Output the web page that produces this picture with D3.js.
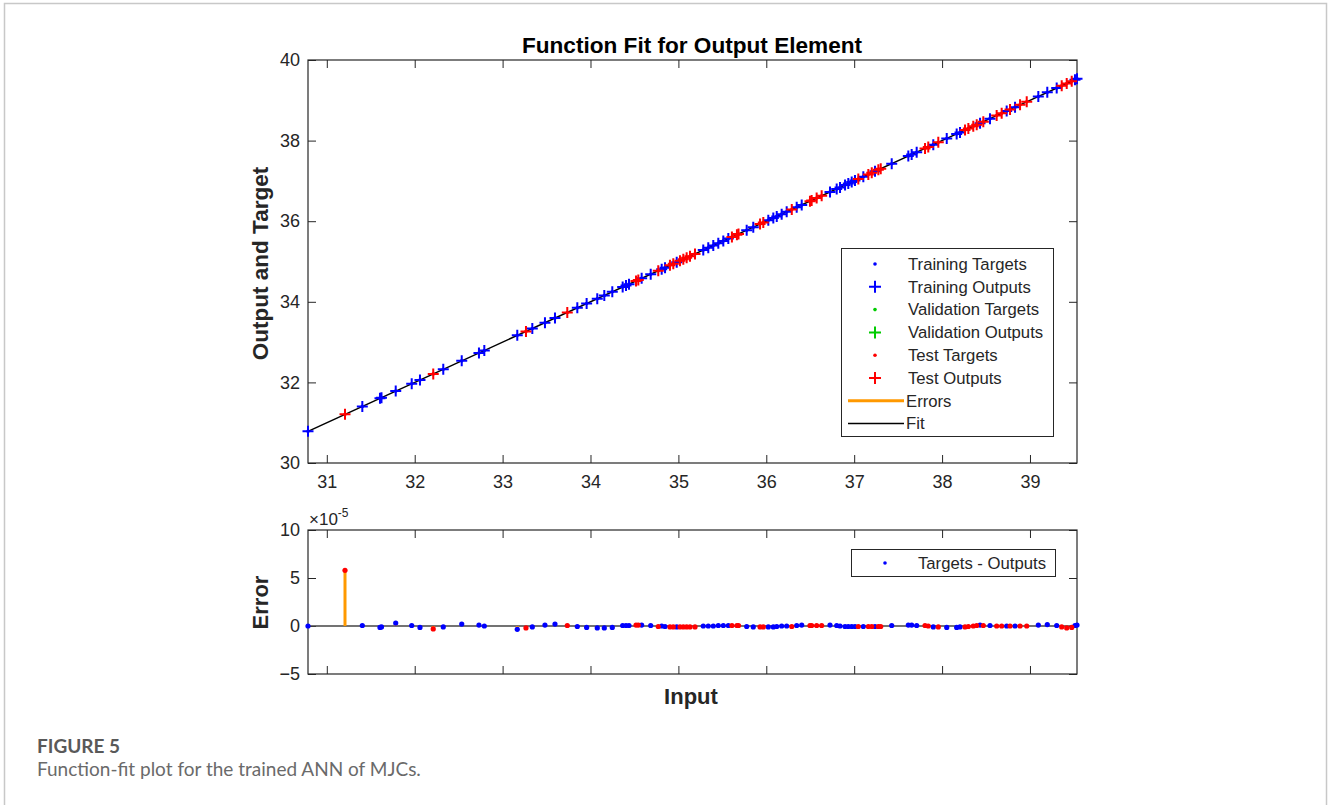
<!DOCTYPE html>
<html lang="en">
<head>
    <meta charset="UTF-8">
    <title>Function Fit</title>
    <style>
        html,body{
            margin:0;
            background:#fff;
            overflow:hidden;
        }
        text{ font-family: "Liberation Sans", Arial, sans-serif; fill:#262626; }
    </style>
</head>
<body>
    <svg id="svg"></svg>
    <script src="https://d3js.org/d3.v7.min.js"></script>
    <script>
        // training samples: input and error (Targets - Outputs, x1e-5)
        const trainX = [30.786, 31.404, 31.605, 31.622, 31.784, 31.966, 32.060, 32.325, 32.535, 32.731,
            32.792, 33.167, 33.338, 33.482, 33.596, 33.850, 33.956, 34.077, 34.157, 34.248,
            34.366, 34.404, 34.438, 34.582, 34.685, 34.810, 34.848, 34.981, 35.283, 35.340,
            35.397, 35.454, 35.511, 35.568, 35.777, 35.852, 36.023, 36.080, 36.119, 36.175,
            36.232, 36.346, 36.403, 36.725, 36.801, 36.839, 36.896, 36.933, 36.972, 37.009,
            37.104, 37.237, 37.427, 37.616, 37.654, 37.711, 37.900, 38.053, 38.166, 38.204,
            38.432, 38.545, 38.735, 38.830, 39.095, 39.197, 39.304, 39.512, 39.535];
        const trainErr = [0, 0.05, -0.15, -0.1, 0.3, 0.05, -0.15, -0.1, 0.2, 0.1,
            0, -0.35, -0.1, 0.1, 0.2, -0.05, -0.15, -0.2, -0.2, -0.15,
            0.05, 0.05, 0.05, 0.1, 0.05, 0, -0.05, -0.1, 0, 0,
            0, 0.05, 0.05, 0.05, -0.05, -0.1, -0.1, -0.1, -0.05, 0,
            0, 0.05, 0.1, 0.1, 0.05, 0, -0.05, -0.05, -0.05, -0.05,
            -0.05, -0.05, 0.05, 0.1, 0.1, 0.05, -0.1, -0.15, -0.15, -0.1,
            0.1, 0.05, 0, 0, 0.1, 0.15, 0.05, 0.05, 0.1];
        // test samples
        const testX = [31.207, 32.211, 33.266, 33.736, 34.518, 34.544, 34.771, 34.904, 34.942, 35.018,
            35.056, 35.094, 35.132, 35.189, 35.609, 35.666, 35.684, 35.929, 35.966, 36.290,
            36.497, 36.516, 36.573, 36.630, 37.047, 37.161, 37.200, 37.275, 37.302, 37.806,
            37.843, 37.957, 38.261, 38.299, 38.355, 38.394, 38.469, 38.621, 38.678, 38.773,
            38.887, 38.963, 39.361, 39.418, 39.475];
        const testErr = [5.8, -0.3, -0.2, 0.05, 0.1, 0.1, -0.05, -0.1, -0.1, -0.1,
            -0.1, -0.1, -0.1, -0.1, 0.05, 0.05, 0.05, -0.1, -0.1, -0.05,
            0.05, 0.05, 0.05, 0.05, -0.05, -0.05, -0.05, -0.05, -0.05, 0.05,
            0, -0.1, -0.1, -0.05, 0, 0.05, 0.05, 0, 0, 0,
            0, 0, -0.1, -0.2, -0.15];

        const xTicks = [31, 32, 33, 34, 35, 36, 37, 38, 39];
        const yTicksFit = [30, 32, 34, 36, 38, 40];
        const yTicksErr = [-5, 0, 5, 10];
        const fitLegend = ['Training Targets', 'Training Outputs', 'Validation Targets',
            'Validation Outputs', 'Test Targets', 'Test Outputs', 'Errors', 'Fit'];

        const W = 1328, H = 805;
        const svg = d3.select('#svg').attr('width', W).attr('height', H);
        const axCol = '#262626';
        const blue = '#0000ff', red = '#ff0000', green = '#00cc00', orange = '#ff9900';

        // page frame + caption
        svg.append('rect').attr('x', 4.5).attr('y', 3.5).attr('width', 1322).attr('height', 820)
            .attr('fill', 'none').attr('stroke', '#c8c8c8').attr('stroke-width', 1.5);
        svg.append('text').attr('x', 37).attr('y', 753).text('FIGURE 5')
            .style('font-family', 'Lato, sans-serif').style('font-size', '19px')
            .style('font-weight', 'bold').style('fill', '#595959');
        svg.append('text').attr('x', 37).attr('y', 776).text('Function-fit plot for the trained ANN of MJCs.')
            .style('font-family', 'Lato, sans-serif').style('font-size', '19px').style('fill', '#6a6a6a');

        const left = 308, right = 1077;
        const x = d3.scaleLinear().domain([30.786, 39.535]).range([left, right]);
        const yFit = d3.scaleLinear().domain([30, 40]).range([463, 60]);
        const yErr = d3.scaleLinear().domain([-5, 10]).range([674, 530]);

        const train = trainX.map((v, i) => ({ x: v, e: trainErr[i] }));
        const test = testX.map((v, i) => ({ x: v, e: testErr[i] }));

        function drawAxes(y, yTicks, showXLabels) {
            const g = svg.append('g');
            const top = y.range()[1], bot = y.range()[0];
            const styleAxis = sel => {
                sel.select('.domain').remove();
                sel.selectAll('line').attr('stroke', axCol);
                sel.selectAll('text').style('font-size', '18px').style('fill', axCol)
                    .style('font-family', '"Liberation Sans", Arial, sans-serif');
            };
            g.append('g').attr('transform', `translate(0,${bot})`)
                .call(d3.axisBottom(x).tickValues(xTicks).tickSize(-8).tickPadding(12)
                    .tickFormat(showXLabels ? d3.format('d') : ''))
                .call(styleAxis);
            g.append('g').attr('transform', `translate(0,${top})`)
                .call(d3.axisTop(x).tickValues(xTicks).tickSize(-8).tickFormat(''))
                .call(styleAxis);
            g.append('g').attr('transform', `translate(${left},0)`)
                .call(d3.axisLeft(y).tickValues(yTicks).tickSize(-8).tickPadding(8).tickFormat(d3.format('d')))
                .call(styleAxis);
            g.append('g').attr('transform', `translate(${right},0)`)
                .call(d3.axisRight(y).tickValues(yTicks).tickSize(-8).tickFormat(''))
                .call(styleAxis);
            g.append('rect').attr('x', left).attr('y', top).attr('width', right - left).attr('height', bot - top)
                .attr('fill', 'none').attr('stroke', axCol).attr('stroke-width', 1.2);
        }

        const cross = (g, cx, cy, col, s) => {
            g.append('path').attr('d', `M${cx - s},${cy}H${cx + s}M${cx},${cy - s}V${cy + s}`)
                .attr('stroke', col).attr('stroke-width', 2).attr('fill', 'none');
        };

        // ---- top: function fit ----
        drawAxes(yFit, yTicksFit, true);
        const fit = svg.append('g');
        fit.append('line')
            .attr('x1', x(30.786)).attr('y1', yFit(30.786))
            .attr('x2', x(39.535)).attr('y2', yFit(39.535))
            .attr('stroke', '#000').attr('stroke-width', 1.5);
        [[train, blue], [test, red]].forEach(([data, col]) => {
            data.forEach(d => {
                fit.append('circle').attr('cx', x(d.x)).attr('cy', yFit(d.x)).attr('r', 1.8).attr('fill', col);
                cross(fit, x(d.x), yFit(d.x - d.e * 1e-5), col, 5.5);
            });
        });

        svg.append('text').attr('x', 692).attr('y', 53).attr('text-anchor', 'middle')
            .text('Function Fit for Output Element')
            .style('font-size', '22.6px').style('font-weight', 'bold').style('fill', '#000');
        svg.append('text').attr('transform', 'translate(268,263.5) rotate(-90)').attr('text-anchor', 'middle')
            .text('Output and Target').style('font-size', '22.5px').style('font-weight', 'bold');

        // legend
        const lg = svg.append('g');
        lg.append('rect').attr('x', 841.5).attr('y', 248.5).attr('width', 212).attr('height', 188)
            .attr('fill', '#fff').attr('stroke', axCol).attr('stroke-width', 1);
        const legCols = [blue, blue, green, green, red, red, orange, '#000'];
        fitLegend.forEach((name, i) => {
            const ry = 264 + i * 22.8;
            if (i < 6) {
                if (i % 2 === 0) lg.append('circle').attr('cx', 875).attr('cy', ry).attr('r', 1.8).attr('fill', legCols[i]);
                else cross(lg, 875, ry, legCols[i], 6);
                lg.append('text').attr('x', 908).attr('y', ry).attr('dy', '0.35em').text(name).style('font-size', '16.7px');
            } else {
                lg.append('line').attr('x1', 848).attr('x2', 904).attr('y1', ry).attr('y2', ry)
                    .attr('stroke', legCols[i]).attr('stroke-width', i === 6 ? 3 : 1.5);
                lg.append('text').attr('x', 906).attr('y', ry).attr('dy', '0.35em').text(name).style('font-size', '16.7px');
            }
        });

        // ---- bottom: errors ----
        drawAxes(yErr, yTicksErr, false);
        const eg = svg.append('g');
        eg.append('line').attr('x1', left).attr('x2', right).attr('y1', yErr(0)).attr('y2', yErr(0))
            .attr('stroke', '#444').attr('stroke-width', 1.5);
        [[train, blue], [test, red]].forEach(([data, col]) => {
            data.forEach(d => {
                eg.append('line').attr('x1', x(d.x)).attr('x2', x(d.x)).attr('y1', yErr(0)).attr('y2', yErr(d.e))
                    .attr('stroke', orange).attr('stroke-width', 3);
            });
        });
        [[train, blue], [test, red]].forEach(([data, col]) => {
            data.forEach(d => {
                eg.append('circle').attr('cx', x(d.x)).attr('cy', yErr(d.e)).attr('r', 2.6).attr('fill', col);
            });
        });

        const ex = svg.append('text').attr('x', 309).attr('y', 525).style('font-size', '17px').style('fill', axCol);
        ex.append('tspan').text('×10');
        ex.append('tspan').attr('dy', -8).style('font-size', '12px').text('-5');

        svg.append('text').attr('transform', 'translate(268,602.5) rotate(-90)').attr('text-anchor', 'middle')
            .text('Error').style('font-size', '22px').style('font-weight', 'bold');
        svg.append('text').attr('x', 691).attr('y', 704).attr('text-anchor', 'middle')
            .text('Input').style('font-size', '22px').style('font-weight', 'bold');

        const lg2 = svg.append('g');
        lg2.append('rect').attr('x', 851.5).attr('y', 549.5).attr('width', 204).attr('height', 27)
            .attr('fill', '#fff').attr('stroke', axCol).attr('stroke-width', 1);
        lg2.append('circle').attr('cx', 885).attr('cy', 563).attr('r', 1.8).attr('fill', blue);
        lg2.append('text').attr('x', 918).attr('y', 563).attr('dy', '0.35em').text('Targets - Outputs').style('font-size', '16.7px');
    </script>
</body>
</html>
